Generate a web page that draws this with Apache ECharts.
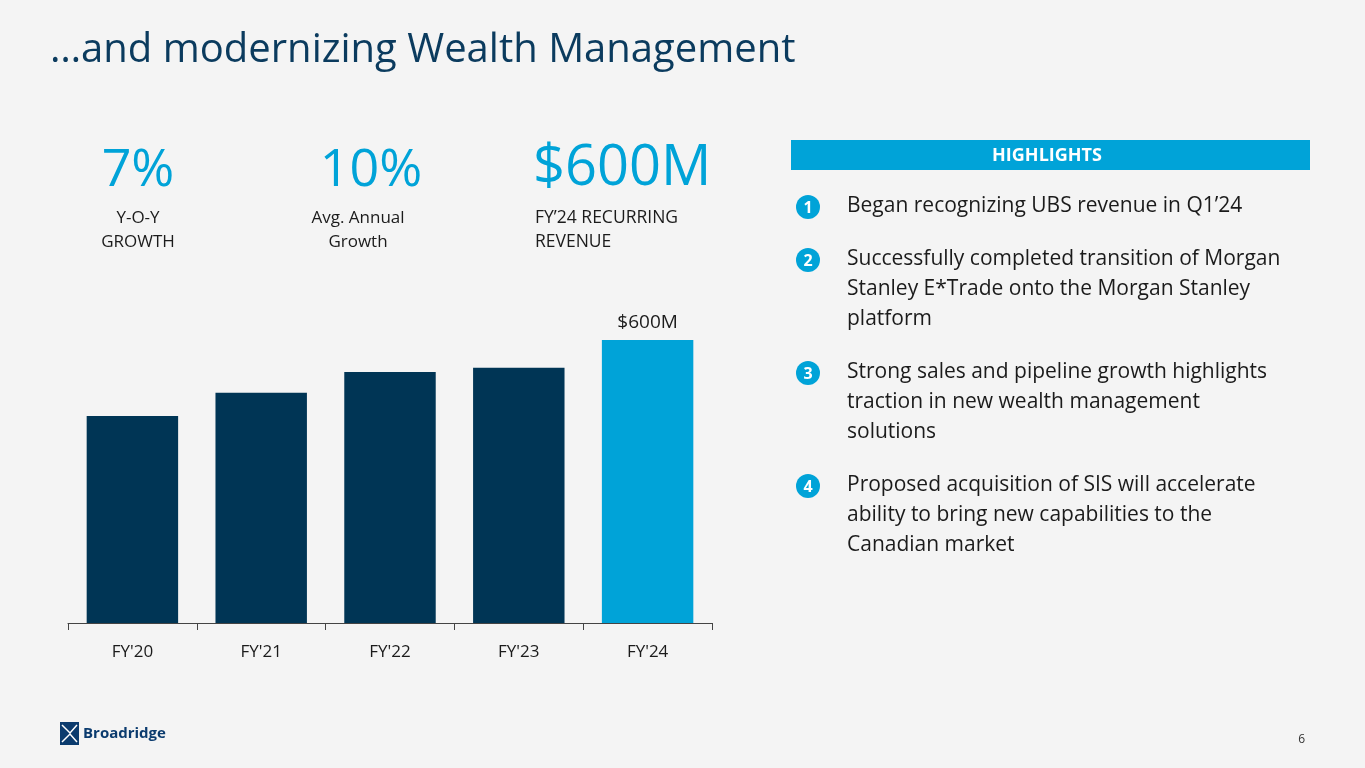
<!DOCTYPE html>
<html>
<head>
<meta charset="utf-8">
<script src="https://cdn.jsdelivr.net/npm/echarts@6/dist/echarts.min.js"></script>
<style>
  html, body { margin: 0; padding: 0; background: #f4f4f4; }
  #chartData { width: 1365px; height: 768px; }
</style>
</head>
<body>
<div id="chartData"></div>
<script>
// 数据
var years = ["FY'20", "FY'21", "FY'22", "FY'23", "FY'24"];
var revenue = [439, 488, 532, 541, 600]; // 单位: 百万美元 (估读)
var barLabels = ['', '', '', '', '$600M'];

var stats = ['7%', '10%', '$600M'];
var statNotes = ['Y-O-Y\nGROWTH', 'Avg. Annual\nGrowth', 'FY\u201924 RECURRING\nREVENUE'];

var highlights = [
    'Began recognizing UBS revenue in Q1\u201924',
    'Successfully completed transition of Morgan\nStanley E*Trade onto the Morgan Stanley\nplatform',
    'Strong sales and pipeline growth highlights\ntraction in new wealth management\nsolutions',
    'Proposed acquisition of SIS will accelerate\nability to bring new capabilities to the\nCanadian market'
];

var FONT = '"Open Sans", "Noto Sans", sans-serif';
var dark = '#003555';
var light = '#00a3d8';
var ink = '#1b1b1b';

var myChart = echarts.init(document.getElementById('chartData'));

// 文字和装饰
var graphics = [
    {
        type: 'text', left: 50, top: 31,
        style: { text: '\u2026and modernizing Wealth Management', font: '40px ' + FONT, fill: '#0b3b5e' }
    },
    // 大数字
    { type: 'text', x: 138, y: 197, style: { text: stats[0], font: '52px ' + FONT, fill: light, textAlign: 'center', textVerticalAlign: 'bottom' } },
    { type: 'text', x: 371, y: 197, style: { text: stats[1], font: '52px ' + FONT, fill: light, textAlign: 'center', textVerticalAlign: 'bottom' } },
    { type: 'text', x: 533, y: 197, style: { text: stats[2], font: '56px ' + FONT, fill: light, textAlign: 'left', textVerticalAlign: 'bottom' } },
    { type: 'text', x: 138, y: 206, style: { text: statNotes[0], font: '17px ' + FONT, fill: ink, textAlign: 'center', lineHeight: 24 } },
    { type: 'text', x: 358, y: 206, style: { text: statNotes[1], font: '17px ' + FONT, fill: ink, textAlign: 'center', lineHeight: 24 } },
    { type: 'text', x: 535, y: 206, style: { text: statNotes[2], font: '17.5px ' + FONT, fill: ink, textAlign: 'left', lineHeight: 24 } },
    // HIGHLIGHTS 标题栏
    { type: 'rect', shape: { x: 791, y: 140, width: 519, height: 30 }, style: { fill: light } },
    { type: 'text', x: 1047, y: 156, style: { text: 'HIGHLIGHTS', font: 'bold 18px ' + FONT, fill: '#ffffff', textAlign: 'center', textVerticalAlign: 'middle' } },
    // 页脚
    { type: 'rect', shape: { x: 60, y: 722, width: 19, height: 23 }, style: { fill: '#0b3b6e' } },
    { type: 'polyline', shape: { points: [[62, 725], [70, 733], [77, 725]] }, style: { stroke: '#fff', lineWidth: 1.5, fill: null } },
    { type: 'polyline', shape: { points: [[62, 742], [70, 734], [77, 742]] }, style: { stroke: '#fff', lineWidth: 1.5, fill: null } },
    { type: 'text', x: 83, y: 734, style: { text: 'Broadridge', font: 'bold 15px ' + FONT, fill: '#0b3b6e', textVerticalAlign: 'middle' } },
    { type: 'text', x: 1305, y: 740, style: { text: '6', font: '12px ' + FONT, fill: '#333', textAlign: 'right', textVerticalAlign: 'middle' } }
];

var itemTops = [207, 260, 373, 486];
highlights.forEach(function (txt, i) {
    graphics.push({ type: 'circle', shape: { cx: 808, cy: itemTops[i], r: 12 }, style: { fill: light } });
    graphics.push({
        type: 'text', x: 808, y: itemTops[i] + 1,
        style: { text: String(i + 1), font: 'bold 16px ' + FONT, fill: '#fff', textAlign: 'center', textVerticalAlign: 'middle' }
    });
    graphics.push({
        type: 'text', x: 847, y: itemTops[i] - 16,
        style: { text: txt, font: '21px ' + FONT, fill: ink, lineHeight: 30 }
    });
});

var option = {
    backgroundColor: '#f4f4f4',
    animation: false,
    grid: { left: 68, right: 653, top: 340, bottom: 145 },
    xAxis: {
        type: 'category',
        data: years,
        axisLine: { lineStyle: { color: '#444', width: 1 } },
        axisTick: { show: true, length: 7, lineStyle: { color: '#444' } },
        axisLabel: { color: ink, fontSize: 17, fontFamily: FONT, margin: 21 }
    },
    yAxis: { type: 'value', min: 0, max: 600, show: false },
    series: [{
        type: 'bar',
        barWidth: '71%',
        data: revenue.map(function (v, i) {
            return { value: v, itemStyle: { color: i === revenue.length - 1 ? light : dark } };
        }),
        label: {
            show: true,
            position: 'top',
            distance: 8,
            color: ink,
            fontSize: 19,
            fontFamily: FONT,
            formatter: function (p) { return barLabels[p.dataIndex]; }
        }
    }],
    graphic: graphics
};

myChart.setOption(option);
</script>
</body>
</html>
